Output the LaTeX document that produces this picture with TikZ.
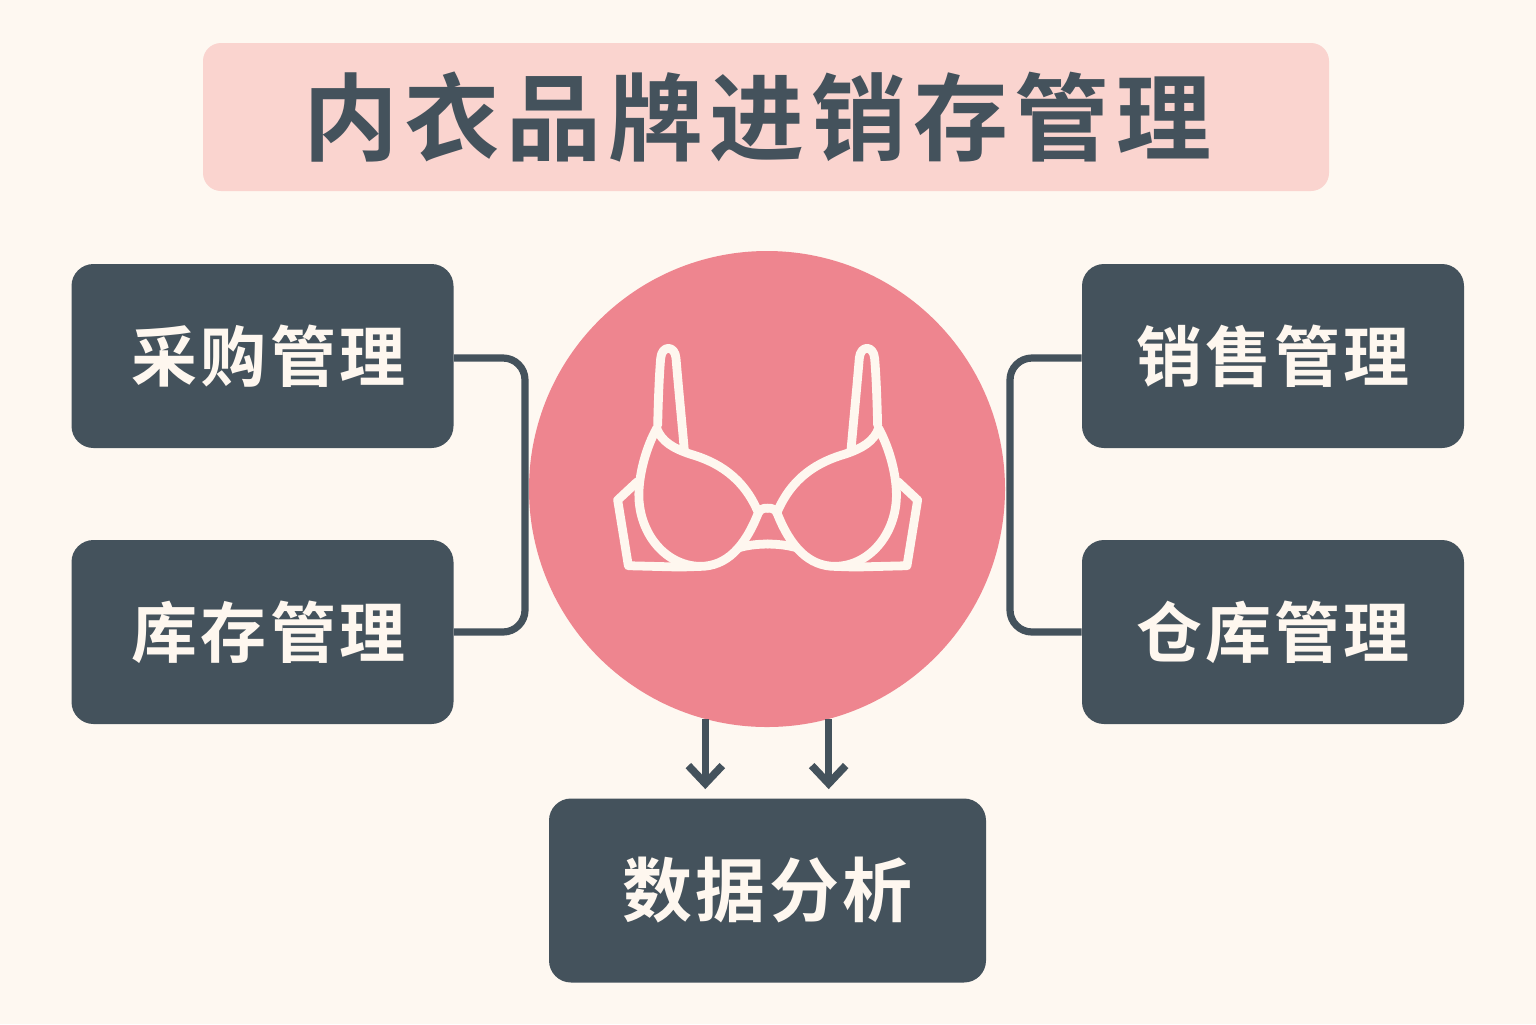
\documentclass[tikz,border=0pt]{standalone}
\usepackage{fontspec}
\setmainfont{Noto Sans CJK SC}
\newfontfamily\cjkbold[LetterSpace=7]{Noto Sans CJK SC Bold}
\newfontfamily\cjkmed[LetterSpace=5]{Noto Sans CJK SC Bold}
\usetikzlibrary{arrows.meta}
\definecolor{bgcol}{HTML}{FEF8F1}
\definecolor{titlecol}{HTML}{FAD4CF}
\definecolor{darkcol}{HTML}{44525C}
\definecolor{hubcol}{HTML}{EE858F}
\definecolor{iconcol}{HTML}{FEF7EF}
\tikzset{
  darkbox/.style={fill=darkcol,text=iconcol,rounded corners=11pt,inner sep=0pt,
    minimum width=191pt,minimum height=92pt,font=\cjkmed\fontsize{33pt}{36pt}\selectfont},
  link/.style={draw=darkcol,line width=3.6pt,rounded corners=11pt},
  flow/.style={draw=darkcol,line width=3.6pt,shorten >=4.5pt,
    -{Straight Barb[length=9pt,width=17pt,line width=3.8pt]}},
  iconline/.style={draw=iconcol,line width=4.4pt,line join=round,line cap=round},
}
\newcommand{\halfbra}{%
  % cup
  \draw[iconline] (200,295) .. controls (170,350) and (150,420) .. (147,480)
     .. controls (140,600) and (220,707) .. (330,709)
     .. controls (410,709) and (465,650) .. (505,548)
     .. controls (460,440) and (380,395) .. (300,372)
     .. controls (250,355) and (215,335) .. (200,295);
  % strap
  \draw[iconline] (203,285) .. controls (205,200) and (208,130) .. (212,85)
     .. controls (215,45) and (255,45) .. (258,85)
     .. controls (265,170) and (275,270) .. (283,362);
  % wing
  \draw[iconline] (142,455) -- (83,510) -- (115,707) -- (270,711) -- (330,709);
  % bridge
  \draw[iconline] (505,548) .. controls (515,530) and (533,535) .. (533,535);
  \draw[iconline] (450,652) .. controls (480,644) and (510,642) .. (533,642);
}
\begin{document}
\begin{tikzpicture}[x=0.5pt,y=-0.5pt]
\fill[bgcol] (0,0) rectangle (1536,1024);
\useasboundingbox (0,0) rectangle (1536,1024);
\node[fill=titlecol,rounded corners=9pt,inner sep=0pt,minimum width=563pt,minimum height=74pt,
  font=\cjkbold\fontsize{47.5pt}{50pt}\selectfont,text=darkcol] (title) at (766,117)
  {\hspace*{-8.5pt}内衣品牌进销存管理};
\node[darkbox] (purchase) at (262.5,356) {\hspace*{6pt}采购管理};
\node[darkbox] (stock) at (262.5,632) {\hspace*{6pt}库存管理};
\node[darkbox] (sales) at (1273,356) {销售管理};
\node[darkbox] (ware) at (1273,632) {仓库管理};
\node[darkbox,minimum width=218.5pt,font=\cjkmed\fontsize{35pt}{38pt}\selectfont] (data) at (767.5,890.5) {数据分析};
\node[circle,fill=hubcol,minimum size=238pt,inner sep=0pt] (hub) at (767,489) {};
\coordinate (leftspine) at (525,495);
\coordinate (rightspine) at (1010,495);
\draw[link] (purchase.east) ++(0,2) -| (leftspine) |- (stock.east);
\draw[link] (sales.west) ++(0,2) -| (rightspine) |- (ware.west);
\draw[flow] (hub.255) -- (hub.255 |- data.north);
\draw[flow] (hub.285) -- (hub.285 |- data.north);
\begin{scope}[shift={(590,330)},x=0.1667pt,y=-0.1667pt]
  \halfbra
\end{scope}
\begin{scope}[shift={(945.3,330)},x=-0.1667pt,y=-0.1667pt]
  \halfbra
\end{scope}
\end{tikzpicture}
\end{document}
